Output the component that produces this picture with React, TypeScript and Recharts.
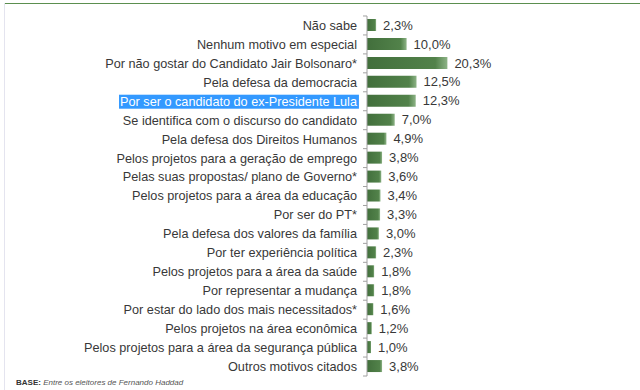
import React, { useLayoutEffect, useRef, useState } from 'react';
import { BarChart, Bar, XAxis, YAxis, LabelList } from 'recharts';

const categories = [
  'Não sabe',
  'Nenhum motivo em especial',
  'Por não gostar do Candidato Jair Bolsonaro*',
  'Pela defesa da democracia',
  'Por ser o candidato do ex-Presidente Lula',
  'Se identifica com o discurso do candidato',
  'Pela defesa dos Direitos Humanos',
  'Pelos projetos para a geração de emprego',
  'Pelas suas propostas/ plano de Governo*',
  'Pelos projetos para a área da educação',
  'Por ser do PT*',
  'Pela defesa dos valores da família',
  'Por ter experiência política',
  'Pelos projetos para a área da saúde',
  'Por representar a mudança',
  'Por estar do lado dos mais necessitados*',
  'Pelos projetos na área econômica',
  'Pelos projetos para a área da segurança pública',
  'Outros motivos citados',
];

const values = [2.3, 10.0, 20.3, 12.5, 12.3, 7.0, 4.9, 3.8, 3.6, 3.4, 3.3, 3.0, 2.3, 1.8, 1.8, 1.6, 1.2, 1.0, 3.8];

const highlighted = 'Por ser o candidato do ex-Presidente Lula';

const data = categories.map((c, i) => ({ name: c, value: values[i] }));

const AXIS_X = 367;

const CategoryTick = (props: any) => {
  const { y, payload, index } = props;
  const half = 18.95 / 2;
  const textRef = useRef<SVGTextElement>(null);
  const [box, setBox] = useState<{ x: number; y: number; w: number; h: number } | null>(null);
  const isHl = payload.value === highlighted;
  useLayoutEffect(() => {
    if (isHl && textRef.current) {
      const b = textRef.current.getBBox();
      setBox({ x: b.x, y: b.y, w: b.width, h: b.height });
    }
  }, [isHl]);
  return (
    <g>
      {index === 0 && (
        <line x1={AXIS_X - 4} x2={AXIS_X} y1={y - half} y2={y - half} stroke="#a0a0a0" strokeWidth={1} />
      )}
      <line x1={AXIS_X - 4} x2={AXIS_X} y1={y + half} y2={y + half} stroke="#a0a0a0" strokeWidth={1} />
      {isHl && box && (
        <rect x={box.x - 1} y={box.y} width={box.w + 2} height={box.h} fill="#3399ff" />
      )}
      <text
        ref={textRef}
        x={AXIS_X - 10}
        y={y}
        dy="0.35em"
        textAnchor="end"
        fontSize={12.7}
        fontFamily="'Liberation Sans', Arial, sans-serif"
        fill={isHl ? '#ffffff' : '#383838'}
      >
        {payload.value}
      </text>
    </g>
  );
};

const fmt = (v: any) => Number(v).toFixed(1).replace('.', ',') + '%';

export default function App() {
  return (
    <div
      style={{
        position: 'absolute',
        left: 0,
        top: 0,
        width: 640,
        height: 390,
        background: '#ffffff',
        overflow: 'hidden',
      }}
    >
      <div style={{ position: 'absolute', left: 4, top: 3, width: 636, height: 1, background: '#5b8f4f' }} />
      <div style={{ position: 'absolute', left: 4, top: 3, width: 1, height: 387, background: '#e4e4ef' }} />
      <BarChart
        width={640}
        height={390}
        data={data}
        layout="vertical"
        margin={{ top: 16, right: 75, bottom: 14, left: 0 }}
        barSize={12}
      >
        <defs>
          <linearGradient id="barGrad" x1="0" y1="0" x2="1" y2="0">
            <stop offset="0%" stopColor="#426f3c" />
            <stop offset="85%" stopColor="#52824a" />
            <stop offset="100%" stopColor="#8db386" />
          </linearGradient>
        </defs>
        <XAxis type="number" domain={[0, 50]} hide />
        <YAxis
          type="category"
          dataKey="name"
          width={AXIS_X}
          axisLine={{ stroke: '#a0a0a0' }}
          tickLine={false}
          tick={<CategoryTick />}
          interval={0}
        />
        <Bar dataKey="value" fill="url(#barGrad)" isAnimationActive={false}>
          <LabelList
            dataKey="value"
            position="right"
            offset={7}
            formatter={fmt}
            style={{ fontSize: 13, fontFamily: "'Liberation Sans', Arial, sans-serif", fill: '#383838' }}
          />
        </Bar>
      </BarChart>
      <div
        style={{
          position: 'absolute',
          left: 16,
          top: 378,
          fontSize: 8,
          fontFamily: "'Liberation Sans', Arial, sans-serif",
          color: '#333',
          whiteSpace: 'nowrap',
        }}
      >
        <b>BASE:</b> <i style={{ color: '#555' }}>Entre os eleitores de Fernando Haddad</i>
      </div>
    </div>
  );
}
